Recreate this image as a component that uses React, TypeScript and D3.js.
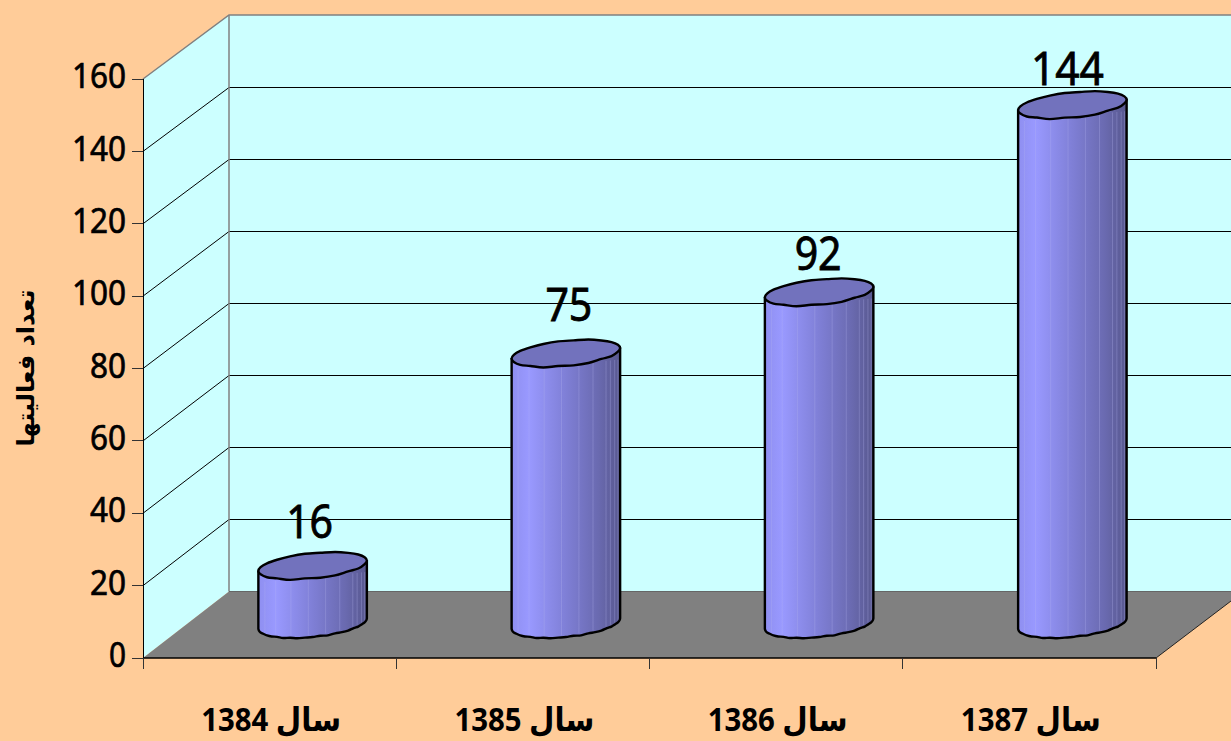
import React from "react";
import * as d3 from "d3";

const categories = ["سال 1384", "سال 1385", "سال 1386", "سال 1387"];
const values = [16, 75, 92, 144];
const yTicks = [0, 20, 40, 60, 80, 100, 120, 140, 160];
const yTitle = "تعداد فعالیتها";
// Facet seams (fraction of bar width) with light highlight
const seams = [0.06, 0.16, 0.3, 0.46, 0.62, 0.75, 0.87, 0.91, 0.95, 0.98];
// The source outlines are visibly low-poly: small radial bumps around the ellipse
const wobble = [0, -0.3, 0.4, -0.4, 0.3, 0.2, -0.4, 0.4, -0.3, 0.3, 0, 0, -0.4, 0.4, -0.3, 0.2, 0.4, -0.4, 0.3, -0.2, 0.3, 0];
// Hand-placed data labels in the source: shift from the default spot
const labelDx = [3, 9, 5, 1];
const labelDy = [-15, -20, -9, -7];

const W = 1231, H = 741;
const front = { left: 143, right: 1156, bottom: 658, top: 79 };
const back = { left: 229, bottom: 591.5, top: 15 };
const FONT = "'Noto Sans','DejaVu Sans',sans-serif";

const y = d3.scaleLinear().domain([0, 160]).range([front.bottom, front.top]);
const yBack = d3.scaleLinear().domain([0, 160]).range([back.bottom, back.top]);
const crisp = (v: number) => Math.floor(v) + 0.5;
const x = d3.scaleBand<string>().domain(categories).range([front.left, front.right]);
const barBase = 628;
const barH = d3.scaleLinear().domain([0, 160]).range([0, 576]);
const barW = 108.5;
const tilt = 10.5;
const bulge = 12.6;

const ellipse = (cx: number, cy: number, a: number, k: number, b: number) => {
  const n = wobble.length;
  const pts: [number, number][] = d3.range(n).map((i) => {
    const t = (i / n) * Math.PI * 2;
    const w = wobble[i];
    return [cx + a * Math.cos(t), cy + k * a * Math.cos(t) + (b + w) * Math.sin(t) + w * 0.4];
  });
  return d3.line().curve(d3.curveCardinalClosed.tension(0))(pts) as string;
};

export default function App() {
  const edgeY = front.bottom - (W - front.right) * 0.76;
  return (
    <svg width={W} height={H} viewBox={`0 0 ${W} ${H}`} style={{ position: "fixed", left: 0, top: 0, display: "block" }} fontFamily={FONT}>
      <defs>
        <linearGradient id="cyl" x1="0" x2="1" y1="0" y2="0">
          <stop offset="0" stopColor="#8f8ff0" />
          <stop offset="0.16" stopColor="#9999ff" />
          <stop offset="0.5" stopColor="#7f7fd6" />
          <stop offset="0.8" stopColor="#6a6ab0" />
          <stop offset="1" stopColor="#58588f" />
        </linearGradient>
      </defs>
      <rect width={W} height={H} fill="#ffcc99" />
      {/* walls */}
      <polygon points={`${front.left},${y(0)} ${back.left},${yBack(0)} ${W},${yBack(0)} ${W},${yBack(160)} ${back.left},${yBack(160)} ${front.left},${y(160)}`} fill="#ccffff" />
      {/* floor */}
      <polygon points={`${front.left},${y(0)} ${back.left},${yBack(0)} ${W},${yBack(0)} ${W},${edgeY} ${front.right},${front.bottom}`} fill="#808080" />
      <line x1={front.right} y1={front.bottom} x2={W} y2={edgeY} stroke="#222" strokeWidth={1} />
      {/* gridlines */}
      {yTicks.slice(1, -1).map((t) => (
        <g key={t} stroke="#000" strokeWidth={1}>
          <line x1={front.left} y1={y(t)} x2={back.left} y2={crisp(yBack(t))} />
          <line x1={back.left} y1={crisp(yBack(t))} x2={W} y2={crisp(yBack(t))} />
        </g>
      ))}
      {/* wall frame */}
      <polyline points={`${front.left},${y(160)} ${back.left},${yBack(160)} ${W},${yBack(160)}`} fill="none" stroke="#808080" strokeWidth={1.5} />
      <line x1={back.left} y1={yBack(160)} x2={back.left} y2={yBack(0)} stroke="#808080" strokeWidth={1.5} />
      <line x1={back.left} y1={crisp(yBack(0))} x2={W} y2={crisp(yBack(0))} stroke="#666" strokeWidth={1} />
      {/* axes */}
      <line x1={front.left + 0.5} y1={y(160)} x2={front.left + 0.5} y2={y(0)} stroke="#000" strokeWidth={1} />
      <line x1={front.left} y1={y(0)} x2={front.right} y2={y(0)} stroke="#000" strokeWidth={1.5} />
      {yTicks.map((t) => (
        <g key={t}>
          <line x1={front.left - 11} y1={crisp(y(t))} x2={front.left} y2={crisp(y(t))} stroke="#333" />
          <text x={126} y={y(t) - 3} dy="0.36em" textAnchor="end" fontSize={34} fontWeight={400} stroke="#000" strokeWidth={0.7} fill="#000" textLength={t >= 100 ? 54 : t > 0 ? 36 : 17} lengthAdjust="spacingAndGlyphs">{t}</text>
        </g>
      ))}
      {[...categories.map((c) => x(c) as number), front.right].map((p) => (
        <line key={p} x1={crisp(p)} y1={front.bottom} x2={crisp(p)} y2={front.bottom + 11} stroke="#333" />
      ))}
      {categories.map((c) => (
        <text key={c} x={(x(c) as number) + x.bandwidth() / 2 + 1.5} y={731} textAnchor="middle" fontSize={33} fontWeight={700} fill="#000" textLength={140} lengthAdjust="spacingAndGlyphs">{c}</text>
      ))}
      <text transform="translate(34,368) rotate(-90)" textAnchor="middle" fontSize={24} fontWeight={700} fill="#000" fontFamily="'DejaVu Sans',sans-serif">{yTitle}</text>
      {/* cylinders */}
      {categories.map((c, i) => {
        const v = values[i];
        const cx = (x(c) as number) + x.bandwidth() / 2 + (back.left - front.left) / 2;
        const a = barW / 2;
        const l = cx - a, r = cx + a;
        const topL = barBase - barH(v);
        const botCy = barBase - 4.5;
        const topCy = topL - tilt / 2 + 0.6;
        const k = -(tilt / 2) / a;
        const n = 22;
        const under: [number, number][] = d3.range(n + 1).map((j) => {
          const t = Math.PI - (j / n) * Math.PI;
          const w = j === 0 || j === n ? 0 : wobble[j % wobble.length];
          return [cx + a * Math.cos(t), botCy + k * a * Math.cos(t) + (13.5 + w) * Math.sin(t)];
        });
        const lineGen = d3.line().curve(d3.curveCardinal.tension(0));
        const body = `M${l},${topL}L${lineGen(under)!.slice(1)}L${r},${topL - tilt}`;
        const bottomAt = (px: number) => {
          const ct = (px - cx) / a;
          return botCy + k * a * ct + 13.5 * Math.sqrt(1 - ct * ct);
        };
        const topAt = (px: number) => topL + ((px - l) / barW) * -tilt;
        return (
          <g key={c}>
            <path d={body} fill="url(#cyl)" stroke="#000" strokeWidth={2.4} strokeLinejoin="round" />
            {seams.map((s) => {
              const px = l + s * barW;
              return <line key={s} x1={px} x2={px} y1={topAt(px) + 12} y2={bottomAt(px) - 2} stroke="#b4b4f0" strokeOpacity={0.3} strokeWidth={1} />;
            })}
            <path d={ellipse(cx, topCy, a, k, bulge)} fill="#7272bd" stroke="#000" strokeWidth={2.4} />
            <text x={cx - 6 + labelDx[i]} y={topCy - 29 + labelDy[i]} dy="0.36em" textAnchor="middle" fontSize={45} fontWeight={400} stroke="#000" strokeWidth={0.8} fill="#000" textLength={i === 3 ? 73 : 47} lengthAdjust="spacingAndGlyphs">{v}</text>
          </g>
        );
      })}
    </svg>
  );
}
